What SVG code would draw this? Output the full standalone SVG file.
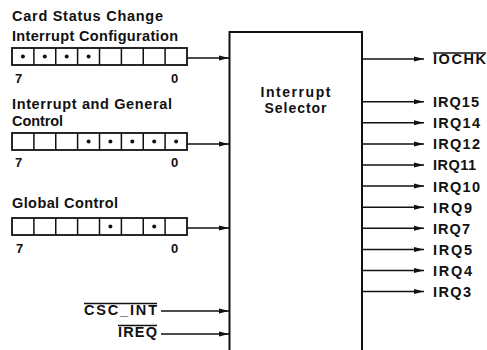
<svg xmlns="http://www.w3.org/2000/svg" width="487" height="350" viewBox="0 0 487 350">
<style>
text{font-family:"Liberation Sans",Arial,sans-serif;font-weight:bold;fill:#111}
.lbl{font-size:14.5px}
.sig{font-size:14.5px}
.num{font-size:13px}
.reg{fill:#fff;stroke:#111;stroke-width:1.8}
.div{stroke:#111;stroke-width:1.5}
.dot{fill:#111}
.con{stroke:#111;stroke-width:1.5;fill:none;marker-end:url(#ah)}
.ov{stroke:#111;stroke-width:1.3}
</style>
<defs>
<marker id="ah" markerUnits="userSpaceOnUse" markerWidth="10" markerHeight="6" refX="10" refY="3" orient="auto">
<path d="M0,0.5 L10,3 L0,5.5 z" fill="#111"/>
</marker>
</defs>
<rect width="487" height="350" fill="#fff"/>

<g id="reg-csc">
<text class="lbl" x="12" y="21" textLength="151">Card Status Change</text>
<text class="lbl" x="12" y="41" textLength="166">Interrupt Configuration</text>
<rect class="reg" x="12" y="48" width="175" height="17"/>
<path class="div" d="M33.9,48v17M55.75,48v17M77.6,48v17M99.5,48v17M121.4,48v17M143.25,48v17M165.1,48v17"/>
<circle class="dot" cx="22.9" cy="56.5" r="2"/>
<circle class="dot" cx="44.8" cy="56.5" r="2"/>
<circle class="dot" cx="66.7" cy="56.5" r="2"/>
<circle class="dot" cx="88.6" cy="56.5" r="2"/>
<text class="num" x="15" y="83">7</text>
<text class="num" x="171" y="83">0</text>
</g>

<g id="reg-igc">
<text class="lbl" x="12" y="108.5" textLength="160">Interrupt and General</text>
<text class="lbl" x="12" y="126" textLength="51">Control</text>
<rect class="reg" x="12" y="133" width="175" height="17"/>
<path class="div" d="M33.9,133v17M55.75,133v17M77.6,133v17M99.5,133v17M121.4,133v17M143.25,133v17M165.1,133v17"/>
<circle class="dot" cx="88.6" cy="141.5" r="2"/>
<circle class="dot" cx="110.4" cy="141.5" r="2"/>
<circle class="dot" cx="132.3" cy="141.5" r="2"/>
<circle class="dot" cx="154.2" cy="141.5" r="2"/>
<circle class="dot" cx="176.1" cy="141.5" r="2"/>
<text class="num" x="15" y="167">7</text>
<text class="num" x="171" y="167">0</text>
</g>

<g id="reg-gc">
<text class="lbl" x="12" y="208" textLength="106">Global Control</text>
<rect class="reg" x="12" y="218" width="175" height="17"/>
<path class="div" d="M33.9,218v17M55.75,218v17M77.6,218v17M99.5,218v17M121.4,218v17M143.25,218v17M165.1,218v17"/>
<circle class="dot" cx="110.4" cy="226.5" r="2"/>
<circle class="dot" cx="154.2" cy="226.5" r="2"/>
<text class="num" x="16" y="253">7</text>
<text class="num" x="171" y="253">0</text>
</g>

<g id="sig-csc-int">
<text class="sig" x="157" y="315" text-anchor="end" textLength="73">CSC_INT</text>
<line class="ov" x1="84" y1="303.5" x2="157" y2="303.5"/>
</g>
<g id="sig-ireq">
<text class="sig" x="157" y="337" text-anchor="end" textLength="39">IREQ</text>
<line class="ov" x1="118" y1="325.5" x2="157" y2="325.5"/>
</g>

<g id="selector">
<rect x="229.5" y="32" width="132.5" height="330" fill="#fff" stroke="#111" stroke-width="2"/>
<text x="295.5" y="96.5" text-anchor="middle" font-size="14" textLength="70">Interrupt</text>
<text x="295.5" y="113" text-anchor="middle" font-size="14" textLength="62">Selector</text>
</g>

<g id="outputs">
<g id="out-iochk"><text class="sig" x="433" y="64" textLength="53">IOCHK</text><line class="ov" x1="433" y1="53" x2="486" y2="53"/></g>
<text class="sig" x="433" y="107" textLength="46">IRQ15</text>
<text class="sig" x="433" y="128" textLength="47">IRQ14</text>
<text class="sig" x="433" y="149" textLength="47">IRQ12</text>
<text class="sig" x="433" y="170" textLength="43">IRQ11</text>
<text class="sig" x="433" y="191.5" textLength="47">IRQ10</text>
<text class="sig" x="433" y="213" textLength="39">IRQ9</text>
<text class="sig" x="433" y="234" textLength="37">IRQ7</text>
<text class="sig" x="433" y="255" textLength="39">IRQ5</text>
<text class="sig" x="433" y="276" textLength="39">IRQ4</text>
<text class="sig" x="433" y="297" textLength="38">IRQ3</text>
</g>

<g id="connectors">
<line class="con" x1="187" y1="58" x2="229" y2="58"/>
<line class="con" x1="187" y1="144" x2="229" y2="144"/>
<line class="con" x1="187" y1="228" x2="229" y2="228"/>
<line class="con" x1="161" y1="311" x2="229" y2="311"/>
<line class="con" x1="161" y1="334" x2="229" y2="334"/>
<line class="con" x1="363" y1="59" x2="424" y2="59"/>
<line class="con" x1="363" y1="101.7" x2="424" y2="101.7"/>
<line class="con" x1="363" y1="122.8" x2="424" y2="122.8"/>
<line class="con" x1="363" y1="143.9" x2="424" y2="143.9"/>
<line class="con" x1="363" y1="165" x2="424" y2="165"/>
<line class="con" x1="363" y1="186.1" x2="424" y2="186.1"/>
<line class="con" x1="363" y1="207.2" x2="424" y2="207.2"/>
<line class="con" x1="363" y1="228.3" x2="424" y2="228.3"/>
<line class="con" x1="363" y1="249.4" x2="424" y2="249.4"/>
<line class="con" x1="363" y1="270.5" x2="424" y2="270.5"/>
<line class="con" x1="363" y1="291.6" x2="424" y2="291.6"/>
</g>
</svg>
